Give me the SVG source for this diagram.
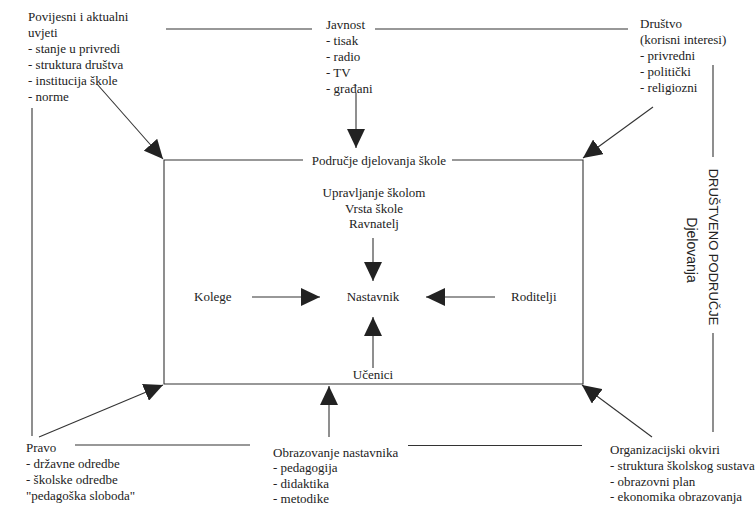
<svg xmlns="http://www.w3.org/2000/svg" width="756" height="509" viewBox="0 0 756 509">
<style>
text{font-family:"Liberation Serif","Times New Roman",serif;font-size:13px;fill:#222}
.c{text-anchor:middle}
.s{font-family:"Liberation Sans",Arial,sans-serif}
.ln{stroke:#333;stroke-width:1.1;fill:none}
</style>
<defs>
<marker id="ah" markerUnits="userSpaceOnUse" markerWidth="20" markerHeight="18" refX="19" refY="9" orient="auto"><path d="M0,0 L19,9 L0,18 Z" fill="#222"/></marker>
</defs>
<rect width="756" height="509" fill="#fff"/>
<g id="frame">
<path class="ln" d="M303,160 H164 V384 H583 V160 H452"/>
<text class="c" x="379" y="165">Područje djelovanja škole</text>
</g>
<g id="povijesni">
<text x="28" y="21">Povijesni i aktualni</text>
<text x="28" y="37">uvjeti</text>
<text x="28" y="53">- stanje u privredi</text>
<text x="28" y="69">- struktura društva</text>
<text x="28" y="85">- institucija škole</text>
<text x="28" y="101">- norme</text>
</g>
<g id="javnost">
<text x="326" y="29">Javnost</text>
<text x="326" y="45">- tisak</text>
<text x="326" y="61">- radio</text>
<text x="326" y="77">- TV</text>
<text x="326" y="93">- građani</text>
</g>
<g id="drustvo">
<text x="640" y="28">Društvo</text>
<text x="640" y="44">(korisni interesi)</text>
<text x="640" y="60">- privredni</text>
<text x="640" y="76">- politički</text>
<text x="640" y="92">- religiozni</text>
</g>
<g id="drustveno-podrucje">
<text class="s c" transform="translate(709,247) rotate(90)">DRUŠTVENO PODRUČJE</text>
<text class="s c" style="font-size:14px" transform="translate(687,250) rotate(90)">Djelovanja</text>
</g>
<g id="pravo">
<text x="26" y="452">Pravo</text>
<text x="26" y="468">- državne odredbe</text>
<text x="26" y="484">- školske odredbe</text>
<text x="26" y="500">"pedagoška sloboda"</text>
</g>
<g id="obrazovanje">
<text x="273" y="457">Obrazovanje nastavnika</text>
<text x="273" y="472">- pedagogija</text>
<text x="273" y="488">- didaktika</text>
<text x="273" y="503">- metodike</text>
</g>
<g id="organizacijski">
<text x="610" y="454">Organizacijski okviri</text>
<text x="610" y="470">- struktura školskog sustava</text>
<text x="610" y="486">- obrazovni plan</text>
<text x="610" y="501">- ekonomika obrazovanja</text>
</g>
<g id="upravljanje">
<text class="c" x="374" y="197">Upravljanje školom</text>
<text class="c" x="374" y="213">Vrsta škole</text>
<text class="c" x="374" y="228">Ravnatelj</text>
</g>
<g id="nastavnik"><text class="c" x="373" y="301">Nastavnik</text></g>
<g id="kolege"><text x="194" y="301">Kolege</text></g>
<g id="roditelji"><text x="511" y="301">Roditelji</text></g>
<g id="ucenici"><text class="c" x="373" y="379">Učenici</text></g>
<g id="connectors">
<path class="ln" d="M166,29 H312 M375,29 H628"/>
<path class="ln" d="M713,65 V157 M713,333 V432"/>
<path class="ln" d="M32,108 V436"/>
<path class="ln" d="M75,445 H250 M408,445.5 H582"/>
<path class="ln" marker-end="url(#ah)" d="M97,84 L163,159"/>
<path class="ln" marker-end="url(#ah)" d="M356,93 V148"/>
<path class="ln" marker-end="url(#ah)" d="M653,107 L583,158"/>
<path class="ln" marker-end="url(#ah)" d="M39,437 L163,385"/>
<path class="ln" marker-end="url(#ah)" d="M329,437 V386"/>
<path class="ln" marker-end="url(#ah)" d="M652,437 L582,385"/>
<path class="ln" marker-end="url(#ah)" d="M373,238 V281"/>
<path class="ln" marker-end="url(#ah)" d="M252,297 H320"/>
<path class="ln" marker-end="url(#ah)" d="M495,297 H426"/>
<path class="ln" marker-end="url(#ah)" d="M373,368 V317"/>
</g>
</svg>
